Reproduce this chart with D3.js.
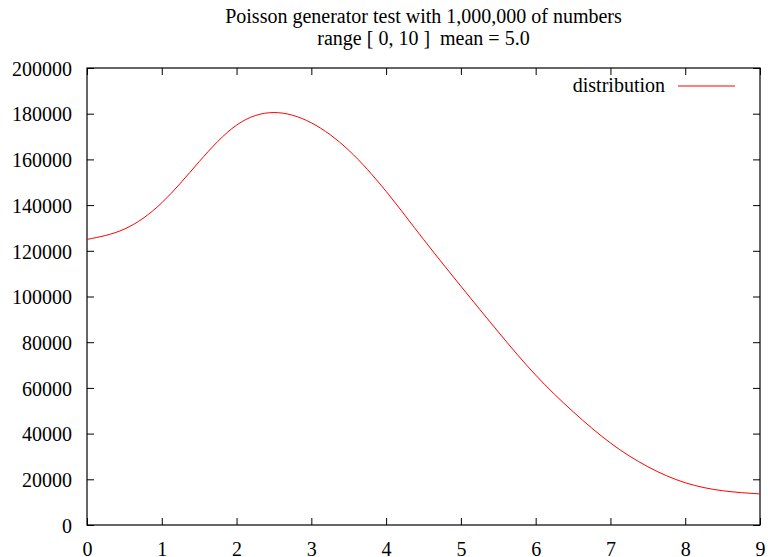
<!DOCTYPE html>
<html>
<head>
<meta charset="utf-8">
<script src="https://cdn.jsdelivr.net/npm/d3@7"></script>
<style>
  html, body { margin: 0; padding: 0; background: #fff; }
  svg { display: block; }
</style>
</head>
<body>
<script>
// Data
const xValues = [0, 0.5, 1, 1.5, 2, 2.5, 3, 3.5, 4, 4.5, 5, 5.5, 6, 6.5, 7, 7.5, 8, 8.5, 9];
const distribution = [125000, 129500, 141000, 159000, 175000, 180500, 176000, 164000, 146000, 125000,
                      104500, 84500, 65600, 49600, 35900, 25500, 18500, 15000, 13600];
const xTicks = [0, 1, 2, 3, 4, 5, 6, 7, 8, 9];
const yTicks = [0, 20000, 40000, 60000, 80000, 100000, 120000, 140000, 160000, 180000, 200000];
const titleLines = ["Poisson generator test with 1,000,000 of numbers", "range [ 0, 10 ]  mean = 5.0"];
const seriesName = "distribution";

const FONT = '"Liberation Serif", "Times New Roman", Tinos, serif';
const W = 768, H = 557;
const m = { left: 87, right: 8, top: 68, bottom: 32 };
const svg = d3.select("body").append("svg").attr("width", W).attr("height", H);

const x = d3.scaleLinear().domain([0, 9]).range([m.left, W - m.right]);
const y = d3.scaleLinear().domain([0, 200000]).range([H - m.bottom, m.top]);

const tickLen = 7;
const gx = svg.append("g").attr("transform", `translate(0,${y(0)})`)
  .call(d3.axisBottom(x).tickValues(xTicks).tickSizeInner(-tickLen).tickSizeOuter(0).tickPadding(17)
    .tickFormat(d3.format("d")));
const gxTop = svg.append("g").attr("transform", `translate(0,${y(200000)})`)
  .call(d3.axisTop(x).tickValues(xTicks).tickSizeInner(-tickLen).tickSizeOuter(0).tickFormat(""));
const gy = svg.append("g").attr("transform", `translate(${x(0)},0)`)
  .call(d3.axisLeft(y).tickValues(yTicks).tickSizeInner(-tickLen).tickSizeOuter(0).tickPadding(15)
    .tickFormat(d3.format("d")));
const gyR = svg.append("g").attr("transform", `translate(${x(9)},0)`)
  .call(d3.axisRight(y).tickValues(yTicks).tickSizeInner(-tickLen).tickSizeOuter(0).tickFormat(""));

[gx, gxTop, gy, gyR].forEach(g => {
  g.select(".domain").remove();
  g.attr("font-family", null).attr("font-size", null);
  g.selectAll(".tick line").attr("stroke", "#000").attr("stroke-width", 1);
  g.selectAll("text").style("font-family", FONT).style("font-size", "20px").attr("fill", "#000");
});
gx.selectAll(".tick text").attr("dy", "0.71em");
gy.selectAll(".tick text").attr("dy", "0.36em");

// border
svg.append("rect")
  .attr("x", x(0)).attr("y", y(200000))
  .attr("width", x(9) - x(0)).attr("height", y(0) - y(200000))
  .attr("fill", "none").attr("stroke", "#000").attr("stroke-width", 1.2);

// curve
const pts = xValues.map((v, i) => [v, distribution[i]]);
svg.append("path")
  .datum(pts)
  .attr("fill", "none").attr("stroke", "#ff0000").attr("stroke-width", 1)
  .attr("d", d3.line().x(d => x(d[0])).y(d => y(d[1])).curve(d3.curveNatural));

function addText(tx, ty, anchor, str) {
  return svg.append("text").attr("x", tx).attr("y", ty).attr("text-anchor", anchor)
    .style("font-family", FONT).style("font-size", "20px").style("white-space", "pre")
    .attr("xml:space", "preserve").attr("fill", "#000").text(str);
}

// title
const cx = (x(0) + x(9)) / 2;
addText(cx, 23, "middle", titleLines[0]);
addText(cx, 45, "middle", titleLines[1]);

// legend
addText(665, 92, "end", seriesName);
svg.append("line").attr("x1", 678).attr("x2", 735).attr("y1", 86).attr("y2", 86)
  .attr("stroke", "#ff0000").attr("stroke-width", 1);
</script>
</body>
</html>
